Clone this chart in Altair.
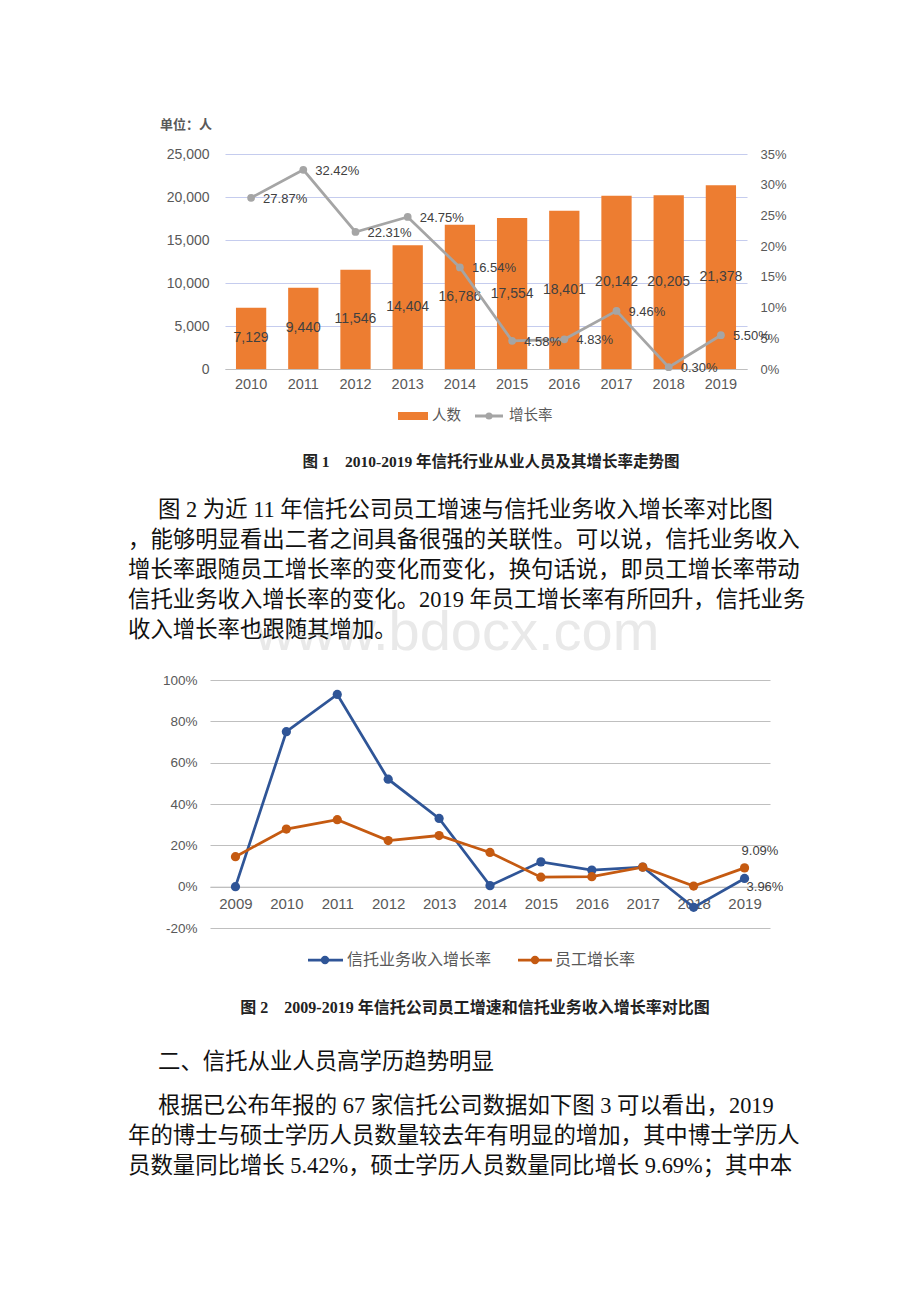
import altair as alt
import pandas as pd

# ---------------- data ----------------
years1 = ["2010", "2011", "2012", "2013", "2014", "2015", "2016", "2017", "2018", "2019"]
staff_count = [7129, 9440, 11546, 14404, 16786, 17554, 18401, 20142, 20205, 21378]
staff_growth1 = [27.87, 32.42, 22.31, 24.75, 16.54, 4.58, 4.83, 9.46, 0.30, 5.50]
count_ticks = [0, 5000, 10000, 15000, 20000, 25000]
rate_ticks1 = [0, 5, 10, 15, 20, 25, 30, 35]

years2 = ["2009", "2010", "2011", "2012", "2013", "2014", "2015", "2016", "2017", "2018", "2019"]
income_growth = [0.0, 75.0, 93.0, 52.0, 33.0, 0.5, 12.0, 8.0, 9.5, -10.0, 3.96]
staff_growth2 = [14.5, 27.87, 32.42, 22.31, 24.75, 16.54, 4.58, 4.83, 9.46, 0.30, 9.09]
rate_ticks2 = [-20, 0, 20, 40, 60, 80, 100]
series2 = ["信托业务收入增长率", "员工增长率"]

unit_label = "单位：人"
legend1 = ["人数", "增长率"]
caption1 = "图 1\u30002010-2019 年信托行业从业人员及其增长率走势图"
caption2 = "图 2\u30002009-2019 年信托公司员工增速和信托业务收入增长率对比图"
para1 = [
    "图 2 为近 11 年信托公司员工增速与信托业务收入增长率对比图",
    "，能够明显看出二者之间具备很强的关联性。可以说，信托业务收入",
    "增长率跟随员工增长率的变化而变化，换句话说，即员工增长率带动",
    "信托业务收入增长率的变化。2019 年员工增长率有所回升，信托业务",
    "收入增长率也跟随其增加。",
]
heading2 = "二、信托从业人员高学历趋势明显"
para2 = [
    "根据已公布年报的 67 家信托公司数据如下图 3 可以看出，2019",
    "年的博士与硕士学历人员数量较去年有明显的增加，其中博士学历人",
    "员数量同比增长 5.42%，硕士学历人员数量同比增长 9.69%；其中本",
]
watermark = "www.bdocx.com"

# ---------------- style / layout ----------------
FONT_NUM = "Liberation Sans, Arial, sans-serif"
FONT_CJK = "Noto Sans CJK SC, sans-serif"
FONT_BODY = "Liberation Serif, Noto Sans CJK SC, serif"
ORANGE1 = "#ED7D31"
GREY = "#A5A5A5"
BLUE = "#2F5597"
ORANGE2 = "#C55A11"
AXIS_TXT = "#595959"
LBL_TXT = "#404040"

W, H = 904, 1286
X1 = [217, 739]
Y1 = [361, 146]
X2 = [202, 762]
Y2 = [920, 672]

one = pd.DataFrame({"k": [0]})


def txt(text, x, y, size, font, color="#000000", weight="normal", align="left"):
    return alt.Chart(one).mark_text(
        text=text, font=font, fontSize=size, fontWeight=weight, color=color,
        align=align, baseline="middle"
    ).encode(x=alt.value(x), y=alt.value(y))


def hline(x1, x2, y, color, width):
    return alt.Chart(one).mark_rule(color=color, strokeWidth=width).encode(
        x=alt.value(x1), x2=alt.value(x2), y=alt.value(y))


def dot(x, y, color, size):
    return alt.Chart(one).mark_circle(color=color, size=size, opacity=1).encode(
        x=alt.value(x), y=alt.value(y))


# ---------------- chart 1 ----------------
df1 = pd.DataFrame({"year": years1, "count": staff_count, "rate": staff_growth1})
df1["count_label"] = [f"{v:,}" for v in staff_count]
df1["rate_label"] = [f"{v:.2f}%" for v in staff_growth1]

band1 = alt.Scale(type="band", domain=years1, range=X1, paddingInner=0.42, paddingOuter=0.21)
point1 = alt.Scale(type="point", domain=years1, range=X1, padding=0.5)
ycount = alt.Scale(domain=[0, 25000], range=Y1, nice=False)
yrate1 = alt.Scale(domain=[0, 35], range=Y1, nice=False)

bars = alt.Chart(df1).mark_bar(color=ORANGE1).encode(
    x=alt.X("year:N", scale=band1, axis=alt.Axis(
        orient="bottom", offset=Y1[0] - H, title=None, labelAngle=0, labelFont=FONT_NUM,
        labelFontSize=14.5, labelColor=AXIS_TXT, labelPadding=8, ticks=False, tickSize=0,
        domainColor="#BFBFBF", domainWidth=1, grid=False)),
    y=alt.Y("count:Q", scale=ycount, axis=alt.Axis(
        orient="left", offset=-X1[0], title=None, values=count_ticks, format=",.0f",
        labelFont=FONT_NUM, labelFontSize=14, labelColor=AXIS_TXT, labelPadding=16,
        ticks=False, tickSize=0, domain=False, grid=True, gridColor="#C5CCEE", gridWidth=1.2)),
)

bar_text = alt.Chart(df1).transform_calculate(half="datum.count / 2").mark_text(
    font=FONT_NUM, fontSize=14, color=LBL_TXT
).encode(
    x=alt.X("year:N", scale=point1, axis=None),
    y=alt.Y("half:Q", scale=ycount, axis=None),
    text="count_label:N",
)

line1 = alt.Chart(df1).mark_line(color=GREY, strokeWidth=2.75).encode(
    x=alt.X("year:N", scale=point1, axis=None),
    y=alt.Y("rate:Q", scale=yrate1, axis=alt.Axis(
        orient="right", offset=X1[1] - W, title=None, values=rate_ticks1,
        labelExpr="datum.value + '%'", labelFont=FONT_NUM, labelFontSize=13,
        labelColor=AXIS_TXT, labelPadding=13, ticks=False, tickSize=0, domain=False, grid=False)),
)

pts1 = alt.Chart(df1).mark_circle(color=GREY, size=60, opacity=1).encode(
    x=alt.X("year:N", scale=point1, axis=None),
    y=alt.Y("rate:Q", scale=yrate1, axis=None),
)

rate_text1 = alt.Chart(df1).mark_text(
    font=FONT_NUM, fontSize=13, color=LBL_TXT, align="left", dx=12, dy=1
).encode(
    x=alt.X("year:N", scale=point1, axis=None),
    y=alt.Y("rate:Q", scale=yrate1, axis=None),
    text="rate_label:N",
)

# ---------------- chart 2 ----------------
df2 = pd.DataFrame({
    "year": years2 * 2,
    "series": [series2[0]] * len(years2) + [series2[1]] * len(years2),
    "rate": income_growth + staff_growth2,
})
df2["rate_label"] = [f"{v:.2f}%" for v in df2["rate"]]

point2 = alt.Scale(type="point", domain=years2, range=X2, padding=0.5)
yrate2 = alt.Scale(domain=[-20, 100], range=Y2, nice=False)
color2 = alt.Scale(domain=series2, range=[BLUE, ORANGE2])
zero_y = Y2[0] - (Y2[0] - Y2[1]) * 20 / 120

lines2 = alt.Chart(df2).mark_line(strokeWidth=2.75).encode(
    x=alt.X("year:N", scale=point2, axis=alt.Axis(
        orient="bottom", offset=zero_y - H, title=None, labelAngle=0, labelFont=FONT_NUM,
        labelFontSize=15, labelColor=AXIS_TXT, labelPadding=10, ticks=False, tickSize=0,
        domainColor="#BFBFBF", domainWidth=1, grid=False)),
    y=alt.Y("rate:Q", scale=yrate2, axis=alt.Axis(
        orient="left", offset=-X2[0], title=None, values=rate_ticks2,
        labelExpr="datum.value + '%'", labelFont=FONT_NUM, labelFontSize=13.5,
        labelColor=AXIS_TXT, labelPadding=13, ticks=False, tickSize=0, domain=False,
        grid=True, gridColor="#BFBFBF", gridWidth=1.2)),
    color=alt.Color("series:N", scale=color2, legend=None),
    detail="series:N",
)

pts2 = alt.Chart(df2).mark_circle(size=85, opacity=1).encode(
    x=alt.X("year:N", scale=point2, axis=None),
    y=alt.Y("rate:Q", scale=yrate2, axis=None),
    color=alt.Color("series:N", scale=color2, legend=None),
)

lab_income = alt.Chart(df2).transform_filter(
    (alt.datum.year == years2[-1]) & (alt.datum.series == series2[0])
).mark_text(font=FONT_NUM, fontSize=13, color=LBL_TXT, align="left", dx=2, dy=9).encode(
    x=alt.X("year:N", scale=point2, axis=None),
    y=alt.Y("rate:Q", scale=yrate2, axis=None),
    text="rate_label:N",
)
lab_staff = alt.Chart(df2).transform_filter(
    (alt.datum.year == years2[-1]) & (alt.datum.series == series2[1])
).mark_text(font=FONT_NUM, fontSize=13, color=LBL_TXT, align="left", dx=-3, dy=-17).encode(
    x=alt.X("year:N", scale=point2, axis=None),
    y=alt.Y("rate:Q", scale=yrate2, axis=None),
    text="rate_label:N",
)

# ---------------- page text & legends ----------------
layers = [txt(watermark, 449, 625, 56, FONT_NUM, color="#E9E9E9", align="center")]

layers += [bars, bar_text, line1, pts1, rate_text1, lines2, pts2, lab_income, lab_staff]

layers += [
    txt(unit_label, 152, 117, 13, FONT_CJK, color=AXIS_TXT, weight="bold"),
    # legend 1
    hline(390, 420, 408, ORANGE1, 8),
    txt(legend1[0], 424, 408, 14.5, FONT_CJK, color=AXIS_TXT),
    hline(467, 495, 408, GREY, 3),
    dot(481, 408, GREY, 50),
    txt(legend1[1], 501, 408, 14.5, FONT_CJK, color=AXIS_TXT),
    txt(caption1, 483, 454, 15.5, FONT_BODY, color="#222222", weight="bold", align="center"),
    # legend 2
    hline(300, 335, 952, BLUE, 2.75),
    dot(317, 952, BLUE, 70),
    txt(series2[0], 339, 952, 16, FONT_CJK, color=AXIS_TXT),
    hline(510, 544, 952, ORANGE2, 2.75),
    dot(527, 952, ORANGE2, 70),
    txt(series2[1], 547, 952, 16, FONT_CJK, color=AXIS_TXT),
    txt(caption2, 467, 1000, 16, FONT_BODY, color="#222222", weight="bold", align="center"),
]

BODY = 22.4
for i, line in enumerate(para1):
    layers.append(txt(line, 150 if i == 0 else 120, 502 + 30 * i, BODY, FONT_BODY, color="#111111"))
layers.append(txt(heading2, 150, 1054, BODY, FONT_BODY, color="#111111"))
for i, line in enumerate(para2):
    layers.append(txt(line, 150 if i == 0 else 120, 1098 + 30 * i, BODY, FONT_BODY, color="#111111"))

chart = alt.layer(*layers).resolve_scale(
    x="independent", y="independent"
).properties(
    width=W, height=H, autosize=alt.AutoSizeParams(type="none"), padding=0,
    background="white",
).configure_view(stroke=None)

chart.save("out.html", embed_options={"renderer": "svg", "actions": False})
